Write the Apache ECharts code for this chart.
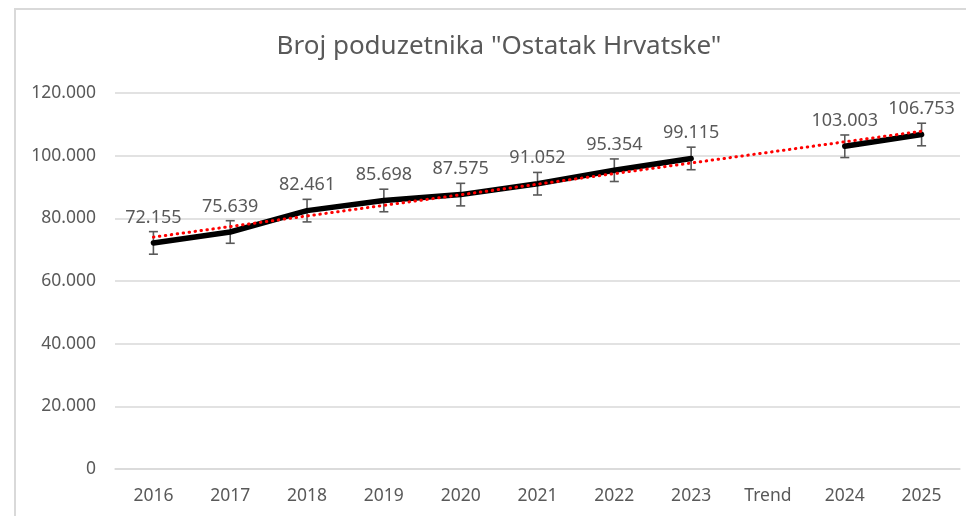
<!DOCTYPE html>
<html>
<head>
<meta charset="utf-8">
<script src="https://cdn.jsdelivr.net/npm/echarts@6/dist/echarts.min.js"></script>
<style>
html,body{margin:0;padding:0;background:#fff;}
#c{width:966px;height:516px;}
</style>
</head>
<body>
<div id="c"></div>
<script>
var categories = ['2016','2017','2018','2019','2020','2021','2022','2023','Trend','2024','2025'];
var values = [72155, 75639, 82461, 85698, 87575, 91052, 95354, 99115, null, 103003, 106753];
var errorAmount = 3600;
var trendValues = [74000, null, null, null, null, null, null, null, null, null, 107800];
var yTicks = { min: 0, max: 120000, interval: 20000 };
var titleText = 'Broj poduzetnika "Ostatak Hrvatske"';

var FONT = '"Noto Sans", "Open Sans", sans-serif';
var TXT = '#595959';

function fmt(v) {
  var s = String(Math.round(v));
  return s.replace(/\B(?=(\d{3})+(?!\d))/g, '.');
}

var errData = [];
values.forEach(function (v, i) {
  if (v != null) {
    errData.push([i, v - errorAmount, v + errorAmount]);
  }
});

var chart = echarts.init(document.getElementById('c'), null, { renderer: 'canvas' });
chart.setOption({
  animation: false,
  backgroundColor: '#fff',
  title: {
    text: titleText,
    left: 494,
    textAlign: 'center',
    top: 29,
    textStyle: { fontFamily: FONT, fontSize: 26, fontWeight: 'normal', color: TXT }
  },
  graphic: [{
    type: 'rect',
    shape: { x: 15, y: 9, width: 1000, height: 1000 },
    style: { fill: 'none', stroke: '#d9d9d9', lineWidth: 2 },
    silent: true
  }],
  grid: { left: 115, right: 6, top: 93, bottom: 47, containLabel: false },
  xAxis: {
    type: 'category',
    data: categories,
    boundaryGap: true,
    axisLine: { show: true, lineStyle: { color: '#d9d9d9', width: 1.5 } },
    axisTick: { show: false },
    axisLabel: { color: TXT, fontFamily: FONT, fontSize: 17.5, margin: 18 }
  },
  yAxis: {
    type: 'value',
    min: yTicks.min, max: yTicks.max, interval: yTicks.interval,
    axisLine: { show: false },
    axisTick: { show: false },
    splitLine: { lineStyle: { color: '#d9d9d9', width: 1.5 } },
    axisLabel: { color: TXT, fontFamily: FONT, fontSize: 17.5, margin: 19, formatter: function (v) { return fmt(v); } }
  },
  series: [
    {
      type: 'custom',
      name: 'err',
      z: 3,
      renderItem: function (params, api) {
        var x = api.value(0);
        var lo = api.coord([x, api.value(1)]);
        var hi = api.coord([x, api.value(2)]);
        var hw = 4.5;
        var st = { stroke: '#595959', lineWidth: 1.6, fill: 'none' };
        return {
          type: 'group',
          children: [
            { type: 'line', shape: { x1: lo[0], y1: lo[1], x2: hi[0], y2: hi[1] }, style: st },
            { type: 'line', shape: { x1: lo[0] - hw, y1: lo[1], x2: lo[0] + hw, y2: lo[1] }, style: st },
            { type: 'line', shape: { x1: hi[0] - hw, y1: hi[1], x2: hi[0] + hw, y2: hi[1] }, style: st }
          ]
        };
      },
      data: errData,
      encode: { x: 0, y: [1, 2] }
    },
    {
      type: 'line',
      name: 'main',
      z: 4,
      data: values,
      connectNulls: false,
      showSymbol: true,
      symbol: 'circle',
      symbolSize: 1,
      itemStyle: { color: 'rgba(0,0,0,0)' },
      lineStyle: { color: '#000', width: 5.5, cap: 'round', join: 'round' },
      label: {
        show: true,
        position: 'top',
        distance: 16,
        color: TXT,
        fontFamily: FONT,
        fontSize: 18,
        formatter: function (p) { return fmt(p.value); }
      }
    },
    {
      type: 'line',
      name: 'trend',
      z: 5,
      data: trendValues,
      connectNulls: true,
      showSymbol: false,
      symbol: 'none',
      lineStyle: { color: '#ff0000', width: 3, type: [0.5, 5.5], cap: 'round' }
    }
  ]
});
</script>
</body>
</html>
